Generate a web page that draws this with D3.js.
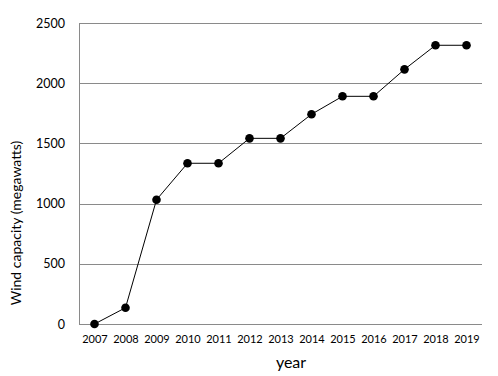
<!DOCTYPE html>
<html><head><meta charset="utf-8">
<script src="https://cdn.jsdelivr.net/npm/d3@7"></script>
<style>body{margin:0;background:#fff;} text{font-family:Lato, "Open Sans", sans-serif;}</style>
</head><body><svg id="c" width="498" height="376"></svg>
<script>
const years = ["2007","2008","2009","2010","2011","2012","2013","2014","2015","2016","2017","2018","2019"];
const capacity = [0,135,1032,1335,1335,1542,1542,1742,1891,1891,2115,2315,2315];
const yTicks = [0,500,1000,1500,2000,2500];

const svg = d3.select("#c");
const m = {l:79, r:16, t:23, b:52};
const W = 498, H = 376;
const x = d3.scalePoint().domain(years).range([m.l, W-m.r]).padding(0.5);
const y = d3.scaleLinear().domain([0,2500]).range([H-m.b, m.t]);

// grid
svg.append("g").selectAll("line").data(yTicks).join("line")
  .attr("x1", m.l).attr("x2", W-m.r)
  .attr("y1", d=>Math.round(y(d))+0.5).attr("y2", d=>Math.round(y(d))+0.5)
  .attr("stroke","#8a8a8a").attr("stroke-width",1);
// left axis line
svg.append("line").attr("x1",m.l+0.5).attr("x2",m.l+0.5).attr("y1",y(2500)).attr("y2",y(0)+0.5)
  .attr("stroke","#8a8a8a");

// y tick labels
const ya = svg.append("g").attr("transform",`translate(${m.l},0)`)
  .call(d3.axisLeft(y).tickValues(yTicks).tickFormat(d3.format("d")).tickSize(0).tickPadding(14));
ya.select(".domain").remove();
ya.selectAll("text").attr("font-size",12.5).attr("fill","#000").style("font-family","Lato, sans-serif");

// x tick labels
const xa = svg.append("g").attr("transform",`translate(0,${H-m.b})`)
  .call(d3.axisBottom(x).tickSize(0).tickPadding(11));
xa.select(".domain").remove();
xa.selectAll("text").attr("font-size",11).attr("fill","#000").style("font-family","Lato, sans-serif");

// line
svg.append("path").datum(years.map((yr,i)=>[yr,capacity[i]]))
  .attr("fill","none").attr("stroke","#000").attr("stroke-width",1)
  .attr("d", d3.line().x(d=>x(d[0])).y(d=>y(d[1])));
svg.append("g").selectAll("circle").data(years.map((yr,i)=>[yr,capacity[i]])).join("circle")
  .attr("cx",d=>x(d[0])).attr("cy",d=>y(d[1])).attr("r",4.3).attr("fill","#000");

// axis titles
svg.append("text").attr("x",291).attr("y",368).attr("text-anchor","middle")
  .attr("font-size",16).text("year");
svg.append("text").attr("transform","translate(21,223) rotate(-90)").attr("text-anchor","middle")
  .attr("font-size",14).text("Wind capacity (megawatts)");
</script></body></html>
